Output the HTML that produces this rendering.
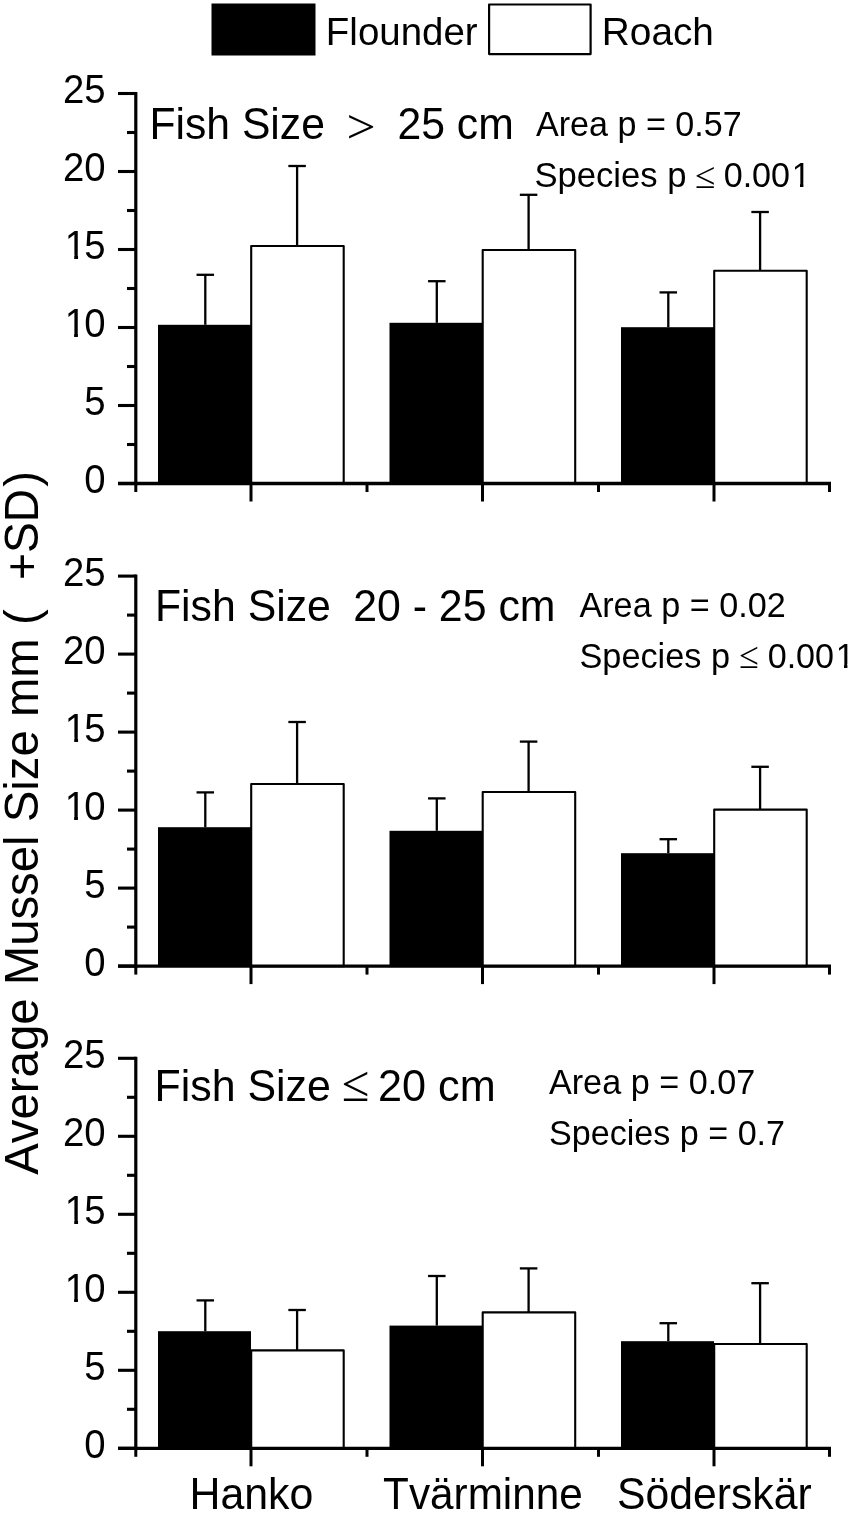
<!DOCTYPE html>
<html lang="en"><head><meta charset="utf-8"><title>Average Mussel Size</title>
<style>
html,body{margin:0;padding:0;background:#fff;}
body{width:850px;height:1513px;overflow:hidden;}
svg{display:block;}
text{fill:#000;font-kerning:none;font-variant-ligatures:none;white-space:pre;}
</style></head><body>
<svg width="850" height="1513" viewBox="0 0 850 1513">
<rect width="850" height="1513" fill="#fff"/>
<defs><clipPath id="c383" clipPathUnits="userSpaceOnUse"><path d="M-5 -38.30H38.30V-4.21H13.21V1.15H9.38V-4.21H-5Z"/></clipPath><clipPath id="c341" clipPathUnits="userSpaceOnUse"><path d="M-5 -34.10H34.10V-3.75H11.76V1.02H8.35V-3.75H-5Z"/></clipPath></defs>
<rect x="211.50" y="3.50" width="104.00" height="52.00" fill="#000"/>
<rect x="489.10" y="4.50" width="101.50" height="49.60" fill="#fff" stroke="#000" stroke-width="2.20" stroke-linejoin="round"/>
<text transform="translate(325.85 44.70) scale(0.9990 1.0200)" font-size="38.50" style="font-family:'Liberation Sans', Arial, Helvetica, sans-serif">Flounder</text>
<text transform="translate(601.82 44.70) scale(1.0073 1.0200)" font-size="38.50" style="font-family:'Liberation Sans', Arial, Helvetica, sans-serif">Roach</text>
<line x1="205.30" y1="274.80" x2="205.30" y2="324.80" stroke="#000" stroke-width="2.30"/>
<line x1="196.55" y1="274.80" x2="214.05" y2="274.80" stroke="#000" stroke-width="2.30"/>
<line x1="297.10" y1="166.00" x2="297.10" y2="246.00" stroke="#000" stroke-width="2.30"/>
<line x1="288.35" y1="166.00" x2="305.85" y2="166.00" stroke="#000" stroke-width="2.30"/>
<rect x="158.00" y="324.80" width="93.00" height="158.70" fill="#000"/>
<rect x="251.20" y="246.00" width="92.50" height="237.50" fill="#fff" stroke="#000" stroke-width="2.10" stroke-linejoin="round"/>
<line x1="436.80" y1="281.20" x2="436.80" y2="322.80" stroke="#000" stroke-width="2.30"/>
<line x1="428.05" y1="281.20" x2="445.55" y2="281.20" stroke="#000" stroke-width="2.30"/>
<line x1="528.60" y1="194.80" x2="528.60" y2="250.00" stroke="#000" stroke-width="2.30"/>
<line x1="519.85" y1="194.80" x2="537.35" y2="194.80" stroke="#000" stroke-width="2.30"/>
<rect x="389.50" y="322.80" width="93.00" height="160.70" fill="#000"/>
<rect x="482.70" y="250.00" width="92.50" height="233.50" fill="#fff" stroke="#000" stroke-width="2.10" stroke-linejoin="round"/>
<line x1="668.30" y1="292.40" x2="668.30" y2="327.20" stroke="#000" stroke-width="2.30"/>
<line x1="659.55" y1="292.40" x2="677.05" y2="292.40" stroke="#000" stroke-width="2.30"/>
<line x1="760.10" y1="212.00" x2="760.10" y2="270.80" stroke="#000" stroke-width="2.30"/>
<line x1="751.35" y1="212.00" x2="768.85" y2="212.00" stroke="#000" stroke-width="2.30"/>
<rect x="621.00" y="327.20" width="93.00" height="156.30" fill="#000"/>
<rect x="714.20" y="270.80" width="92.50" height="212.70" fill="#fff" stroke="#000" stroke-width="2.10" stroke-linejoin="round"/>
<line x1="135.80" y1="91.90" x2="135.80" y2="485.10" stroke="#000" stroke-width="3.20"/>
<line x1="118.00" y1="483.50" x2="135.80" y2="483.50" stroke="#000" stroke-width="3.10"/>
<text transform="translate(84.20 493.20) scale(1.0000 1.0400)" font-size="38.30" style="font-family:'Liberation Sans', Arial, Helvetica, sans-serif">0</text>
<line x1="127.00" y1="444.50" x2="135.80" y2="444.50" stroke="#000" stroke-width="3.10"/>
<line x1="118.00" y1="405.50" x2="135.80" y2="405.50" stroke="#000" stroke-width="3.10"/>
<text transform="translate(84.31 415.20) scale(1.0000 1.0400)" font-size="38.30" style="font-family:'Liberation Sans', Arial, Helvetica, sans-serif">5</text>
<line x1="127.00" y1="366.50" x2="135.80" y2="366.50" stroke="#000" stroke-width="3.10"/>
<line x1="118.00" y1="327.50" x2="135.80" y2="327.50" stroke="#000" stroke-width="3.10"/>
<text transform="translate(64.73 337.20) scale(1.0000 1.0400)" font-size="38.30" clip-path="url(#c383)" style="font-family:'Liberation Sans', Arial, Helvetica, sans-serif">1</text>
<text transform="translate(84.20 337.20) scale(1.0000 1.0400)" font-size="38.30" style="font-family:'Liberation Sans', Arial, Helvetica, sans-serif">0</text>
<line x1="127.00" y1="288.50" x2="135.80" y2="288.50" stroke="#000" stroke-width="3.10"/>
<line x1="118.00" y1="249.50" x2="135.80" y2="249.50" stroke="#000" stroke-width="3.10"/>
<text transform="translate(64.85 259.20) scale(1.0000 1.0400)" font-size="38.30" clip-path="url(#c383)" style="font-family:'Liberation Sans', Arial, Helvetica, sans-serif">1</text>
<text transform="translate(84.31 259.20) scale(1.0000 1.0400)" font-size="38.30" style="font-family:'Liberation Sans', Arial, Helvetica, sans-serif">5</text>
<line x1="127.00" y1="210.50" x2="135.80" y2="210.50" stroke="#000" stroke-width="3.10"/>
<line x1="118.00" y1="171.50" x2="135.80" y2="171.50" stroke="#000" stroke-width="3.10"/>
<text transform="translate(62.89 181.20) scale(1.0000 1.0400)" font-size="38.30" style="font-family:'Liberation Sans', Arial, Helvetica, sans-serif">20</text>
<line x1="127.00" y1="132.50" x2="135.80" y2="132.50" stroke="#000" stroke-width="3.10"/>
<line x1="118.00" y1="93.50" x2="135.80" y2="93.50" stroke="#000" stroke-width="3.10"/>
<text transform="translate(63.01 103.20) scale(1.0000 1.0400)" font-size="38.30" style="font-family:'Liberation Sans', Arial, Helvetica, sans-serif">25</text>
<line x1="118.00" y1="483.50" x2="831.00" y2="483.50" stroke="#000" stroke-width="3.30"/>
<line x1="251.00" y1="483.50" x2="251.00" y2="501.50" stroke="#000" stroke-width="3.00"/>
<line x1="482.50" y1="483.50" x2="482.50" y2="501.50" stroke="#000" stroke-width="3.00"/>
<line x1="714.00" y1="483.50" x2="714.00" y2="501.50" stroke="#000" stroke-width="3.00"/>
<line x1="135.80" y1="483.50" x2="135.80" y2="492.00" stroke="#000" stroke-width="3.00"/>
<line x1="367.00" y1="483.50" x2="367.00" y2="492.00" stroke="#000" stroke-width="3.00"/>
<line x1="598.50" y1="483.50" x2="598.50" y2="492.00" stroke="#000" stroke-width="3.00"/>
<line x1="829.50" y1="483.50" x2="829.50" y2="492.00" stroke="#000" stroke-width="3.00"/>
<line x1="205.30" y1="792.40" x2="205.30" y2="827.20" stroke="#000" stroke-width="2.30"/>
<line x1="196.55" y1="792.40" x2="214.05" y2="792.40" stroke="#000" stroke-width="2.30"/>
<line x1="297.10" y1="722.00" x2="297.10" y2="784.00" stroke="#000" stroke-width="2.30"/>
<line x1="288.35" y1="722.00" x2="305.85" y2="722.00" stroke="#000" stroke-width="2.30"/>
<rect x="158.00" y="827.20" width="93.00" height="138.90" fill="#000"/>
<rect x="251.20" y="784.00" width="92.50" height="182.10" fill="#fff" stroke="#000" stroke-width="2.10" stroke-linejoin="round"/>
<line x1="436.80" y1="798.40" x2="436.80" y2="830.80" stroke="#000" stroke-width="2.30"/>
<line x1="428.05" y1="798.40" x2="445.55" y2="798.40" stroke="#000" stroke-width="2.30"/>
<line x1="528.60" y1="741.60" x2="528.60" y2="792.00" stroke="#000" stroke-width="2.30"/>
<line x1="519.85" y1="741.60" x2="537.35" y2="741.60" stroke="#000" stroke-width="2.30"/>
<rect x="389.50" y="830.80" width="93.00" height="135.30" fill="#000"/>
<rect x="482.70" y="792.00" width="92.50" height="174.10" fill="#fff" stroke="#000" stroke-width="2.10" stroke-linejoin="round"/>
<line x1="668.30" y1="839.20" x2="668.30" y2="853.20" stroke="#000" stroke-width="2.30"/>
<line x1="659.55" y1="839.20" x2="677.05" y2="839.20" stroke="#000" stroke-width="2.30"/>
<line x1="760.10" y1="766.80" x2="760.10" y2="809.60" stroke="#000" stroke-width="2.30"/>
<line x1="751.35" y1="766.80" x2="768.85" y2="766.80" stroke="#000" stroke-width="2.30"/>
<rect x="621.00" y="853.20" width="93.00" height="112.90" fill="#000"/>
<rect x="714.20" y="809.60" width="92.50" height="156.50" fill="#fff" stroke="#000" stroke-width="2.10" stroke-linejoin="round"/>
<line x1="135.80" y1="574.50" x2="135.80" y2="967.70" stroke="#000" stroke-width="3.20"/>
<line x1="118.00" y1="966.10" x2="135.80" y2="966.10" stroke="#000" stroke-width="3.10"/>
<text transform="translate(84.20 975.80) scale(1.0000 1.0400)" font-size="38.30" style="font-family:'Liberation Sans', Arial, Helvetica, sans-serif">0</text>
<line x1="127.00" y1="927.10" x2="135.80" y2="927.10" stroke="#000" stroke-width="3.10"/>
<line x1="118.00" y1="888.10" x2="135.80" y2="888.10" stroke="#000" stroke-width="3.10"/>
<text transform="translate(84.31 897.80) scale(1.0000 1.0400)" font-size="38.30" style="font-family:'Liberation Sans', Arial, Helvetica, sans-serif">5</text>
<line x1="127.00" y1="849.10" x2="135.80" y2="849.10" stroke="#000" stroke-width="3.10"/>
<line x1="118.00" y1="810.10" x2="135.80" y2="810.10" stroke="#000" stroke-width="3.10"/>
<text transform="translate(64.73 819.80) scale(1.0000 1.0400)" font-size="38.30" clip-path="url(#c383)" style="font-family:'Liberation Sans', Arial, Helvetica, sans-serif">1</text>
<text transform="translate(84.20 819.80) scale(1.0000 1.0400)" font-size="38.30" style="font-family:'Liberation Sans', Arial, Helvetica, sans-serif">0</text>
<line x1="127.00" y1="771.10" x2="135.80" y2="771.10" stroke="#000" stroke-width="3.10"/>
<line x1="118.00" y1="732.10" x2="135.80" y2="732.10" stroke="#000" stroke-width="3.10"/>
<text transform="translate(64.85 741.80) scale(1.0000 1.0400)" font-size="38.30" clip-path="url(#c383)" style="font-family:'Liberation Sans', Arial, Helvetica, sans-serif">1</text>
<text transform="translate(84.31 741.80) scale(1.0000 1.0400)" font-size="38.30" style="font-family:'Liberation Sans', Arial, Helvetica, sans-serif">5</text>
<line x1="127.00" y1="693.10" x2="135.80" y2="693.10" stroke="#000" stroke-width="3.10"/>
<line x1="118.00" y1="654.10" x2="135.80" y2="654.10" stroke="#000" stroke-width="3.10"/>
<text transform="translate(62.89 663.80) scale(1.0000 1.0400)" font-size="38.30" style="font-family:'Liberation Sans', Arial, Helvetica, sans-serif">20</text>
<line x1="127.00" y1="615.10" x2="135.80" y2="615.10" stroke="#000" stroke-width="3.10"/>
<line x1="118.00" y1="576.10" x2="135.80" y2="576.10" stroke="#000" stroke-width="3.10"/>
<text transform="translate(63.01 585.80) scale(1.0000 1.0400)" font-size="38.30" style="font-family:'Liberation Sans', Arial, Helvetica, sans-serif">25</text>
<line x1="118.00" y1="966.10" x2="831.00" y2="966.10" stroke="#000" stroke-width="3.30"/>
<line x1="251.00" y1="966.10" x2="251.00" y2="984.10" stroke="#000" stroke-width="3.00"/>
<line x1="482.50" y1="966.10" x2="482.50" y2="984.10" stroke="#000" stroke-width="3.00"/>
<line x1="714.00" y1="966.10" x2="714.00" y2="984.10" stroke="#000" stroke-width="3.00"/>
<line x1="135.80" y1="966.10" x2="135.80" y2="974.60" stroke="#000" stroke-width="3.00"/>
<line x1="367.00" y1="966.10" x2="367.00" y2="974.60" stroke="#000" stroke-width="3.00"/>
<line x1="598.50" y1="966.10" x2="598.50" y2="974.60" stroke="#000" stroke-width="3.00"/>
<line x1="829.50" y1="966.10" x2="829.50" y2="974.60" stroke="#000" stroke-width="3.00"/>
<line x1="205.30" y1="1300.40" x2="205.30" y2="1331.20" stroke="#000" stroke-width="2.30"/>
<line x1="196.55" y1="1300.40" x2="214.05" y2="1300.40" stroke="#000" stroke-width="2.30"/>
<line x1="297.10" y1="1310.00" x2="297.10" y2="1350.40" stroke="#000" stroke-width="2.30"/>
<line x1="288.35" y1="1310.00" x2="305.85" y2="1310.00" stroke="#000" stroke-width="2.30"/>
<rect x="158.00" y="1331.20" width="93.00" height="117.10" fill="#000"/>
<rect x="251.20" y="1350.40" width="92.50" height="97.90" fill="#fff" stroke="#000" stroke-width="2.10" stroke-linejoin="round"/>
<line x1="436.80" y1="1276.00" x2="436.80" y2="1325.60" stroke="#000" stroke-width="2.30"/>
<line x1="428.05" y1="1276.00" x2="445.55" y2="1276.00" stroke="#000" stroke-width="2.30"/>
<line x1="528.60" y1="1268.40" x2="528.60" y2="1312.40" stroke="#000" stroke-width="2.30"/>
<line x1="519.85" y1="1268.40" x2="537.35" y2="1268.40" stroke="#000" stroke-width="2.30"/>
<rect x="389.50" y="1325.60" width="93.00" height="122.70" fill="#000"/>
<rect x="482.70" y="1312.40" width="92.50" height="135.90" fill="#fff" stroke="#000" stroke-width="2.10" stroke-linejoin="round"/>
<line x1="668.30" y1="1323.20" x2="668.30" y2="1341.20" stroke="#000" stroke-width="2.30"/>
<line x1="659.55" y1="1323.20" x2="677.05" y2="1323.20" stroke="#000" stroke-width="2.30"/>
<line x1="760.10" y1="1283.20" x2="760.10" y2="1344.00" stroke="#000" stroke-width="2.30"/>
<line x1="751.35" y1="1283.20" x2="768.85" y2="1283.20" stroke="#000" stroke-width="2.30"/>
<rect x="621.00" y="1341.20" width="93.00" height="107.10" fill="#000"/>
<rect x="714.20" y="1344.00" width="92.50" height="104.30" fill="#fff" stroke="#000" stroke-width="2.10" stroke-linejoin="round"/>
<line x1="135.80" y1="1056.70" x2="135.80" y2="1449.90" stroke="#000" stroke-width="3.20"/>
<line x1="118.00" y1="1448.30" x2="135.80" y2="1448.30" stroke="#000" stroke-width="3.10"/>
<text transform="translate(84.20 1458.00) scale(1.0000 1.0400)" font-size="38.30" style="font-family:'Liberation Sans', Arial, Helvetica, sans-serif">0</text>
<line x1="127.00" y1="1409.30" x2="135.80" y2="1409.30" stroke="#000" stroke-width="3.10"/>
<line x1="118.00" y1="1370.30" x2="135.80" y2="1370.30" stroke="#000" stroke-width="3.10"/>
<text transform="translate(84.31 1380.00) scale(1.0000 1.0400)" font-size="38.30" style="font-family:'Liberation Sans', Arial, Helvetica, sans-serif">5</text>
<line x1="127.00" y1="1331.30" x2="135.80" y2="1331.30" stroke="#000" stroke-width="3.10"/>
<line x1="118.00" y1="1292.30" x2="135.80" y2="1292.30" stroke="#000" stroke-width="3.10"/>
<text transform="translate(64.73 1302.00) scale(1.0000 1.0400)" font-size="38.30" clip-path="url(#c383)" style="font-family:'Liberation Sans', Arial, Helvetica, sans-serif">1</text>
<text transform="translate(84.20 1302.00) scale(1.0000 1.0400)" font-size="38.30" style="font-family:'Liberation Sans', Arial, Helvetica, sans-serif">0</text>
<line x1="127.00" y1="1253.30" x2="135.80" y2="1253.30" stroke="#000" stroke-width="3.10"/>
<line x1="118.00" y1="1214.30" x2="135.80" y2="1214.30" stroke="#000" stroke-width="3.10"/>
<text transform="translate(64.85 1224.00) scale(1.0000 1.0400)" font-size="38.30" clip-path="url(#c383)" style="font-family:'Liberation Sans', Arial, Helvetica, sans-serif">1</text>
<text transform="translate(84.31 1224.00) scale(1.0000 1.0400)" font-size="38.30" style="font-family:'Liberation Sans', Arial, Helvetica, sans-serif">5</text>
<line x1="127.00" y1="1175.30" x2="135.80" y2="1175.30" stroke="#000" stroke-width="3.10"/>
<line x1="118.00" y1="1136.30" x2="135.80" y2="1136.30" stroke="#000" stroke-width="3.10"/>
<text transform="translate(62.89 1146.00) scale(1.0000 1.0400)" font-size="38.30" style="font-family:'Liberation Sans', Arial, Helvetica, sans-serif">20</text>
<line x1="127.00" y1="1097.30" x2="135.80" y2="1097.30" stroke="#000" stroke-width="3.10"/>
<line x1="118.00" y1="1058.30" x2="135.80" y2="1058.30" stroke="#000" stroke-width="3.10"/>
<text transform="translate(63.01 1068.00) scale(1.0000 1.0400)" font-size="38.30" style="font-family:'Liberation Sans', Arial, Helvetica, sans-serif">25</text>
<line x1="118.00" y1="1448.30" x2="831.00" y2="1448.30" stroke="#000" stroke-width="3.30"/>
<line x1="251.00" y1="1448.30" x2="251.00" y2="1466.30" stroke="#000" stroke-width="3.00"/>
<line x1="482.50" y1="1448.30" x2="482.50" y2="1466.30" stroke="#000" stroke-width="3.00"/>
<line x1="714.00" y1="1448.30" x2="714.00" y2="1466.30" stroke="#000" stroke-width="3.00"/>
<line x1="135.80" y1="1448.30" x2="135.80" y2="1456.80" stroke="#000" stroke-width="3.00"/>
<line x1="367.00" y1="1448.30" x2="367.00" y2="1456.80" stroke="#000" stroke-width="3.00"/>
<line x1="598.50" y1="1448.30" x2="598.50" y2="1456.80" stroke="#000" stroke-width="3.00"/>
<line x1="829.50" y1="1448.30" x2="829.50" y2="1456.80" stroke="#000" stroke-width="3.00"/>
<text transform="translate(149.50 138.80) scale(0.9989 1.0200)" font-size="42.70" style="font-family:'Liberation Sans', Arial, Helvetica, sans-serif">Fish Size</text>
<text transform="translate(346.38 142.96) scale(1 0.9525)" font-size="51.58" style="font-family:'Liberation Serif', 'Times New Roman', serif">&gt;</text>
<text transform="translate(397.45 138.80) scale(1.0008 1.0200)" font-size="42.70" style="font-family:'Liberation Sans', Arial, Helvetica, sans-serif">25 cm</text>
<text transform="translate(154.99 621.40) scale(1.0018 1.0200)" font-size="42.70" style="font-family:'Liberation Sans', Arial, Helvetica, sans-serif">Fish Size</text>
<text transform="translate(353.15 621.40) scale(1.0033 1.0200)" font-size="42.70" style="font-family:'Liberation Sans', Arial, Helvetica, sans-serif">20 - 25 cm</text>
<text transform="translate(154.48 1100.70) scale(1.0047 1.0200)" font-size="42.70" style="font-family:'Liberation Sans', Arial, Helvetica, sans-serif">Fish Size</text>
<text transform="translate(341.71 1100.80) scale(1 1.0164)" font-size="50.29" style="font-family:'Liberation Serif', 'Times New Roman', serif">≤</text>
<text transform="translate(378.03 1100.70) scale(1.0115 1.0200)" font-size="42.70" style="font-family:'Liberation Sans', Arial, Helvetica, sans-serif">20 cm</text>
<text transform="translate(535.93 136.20) scale(1.0004 1.0200)" font-size="34.10" style="font-family:'Liberation Sans', Arial, Helvetica, sans-serif">Area p = 0.57</text>
<text transform="translate(534.43 187.40) scale(1.0152 1.0200)" font-size="34.10" style="font-family:'Liberation Sans', Arial, Helvetica, sans-serif">Species p</text>
<text transform="translate(694.66 187.50) scale(1 0.9854)" font-size="37.18" style="font-family:'Liberation Serif', 'Times New Roman', serif">≤</text>
<text transform="translate(723.67 187.40) scale(1.0000 1.0200)" font-size="34.10" style="font-family:'Liberation Sans', Arial, Helvetica, sans-serif">0.00</text>
<text transform="translate(791.67 187.40) scale(1.0000 1.0200)" font-size="34.10" clip-path="url(#c341)" style="font-family:'Liberation Sans', Arial, Helvetica, sans-serif">1</text>
<text transform="translate(579.43 617.10) scale(1.0029 1.0200)" font-size="34.10" style="font-family:'Liberation Sans', Arial, Helvetica, sans-serif">Area p = 0.02</text>
<text transform="translate(579.44 667.80) scale(1.0063 1.0200)" font-size="34.10" style="font-family:'Liberation Sans', Arial, Helvetica, sans-serif">Species p</text>
<text transform="translate(739.01 667.80) scale(1 1.0354)" font-size="35.89" style="font-family:'Liberation Serif', 'Times New Roman', serif">≤</text>
<text transform="translate(767.67 667.80) scale(1.0000 1.0200)" font-size="34.10" style="font-family:'Liberation Sans', Arial, Helvetica, sans-serif">0.00</text>
<text transform="translate(835.67 667.80) scale(1.0000 1.0200)" font-size="34.10" clip-path="url(#c341)" style="font-family:'Liberation Sans', Arial, Helvetica, sans-serif">1</text>
<text transform="translate(548.93 1093.70) scale(1.0029 1.0200)" font-size="34.10" style="font-family:'Liberation Sans', Arial, Helvetica, sans-serif">Area p = 0.07</text>
<text transform="translate(548.95 1144.70) scale(1.0010 1.0200)" font-size="34.10" style="font-family:'Liberation Sans', Arial, Helvetica, sans-serif">Species p = 0.7</text>
<text transform="translate(189.48 1509.40) scale(1.0039 1.0200)" font-size="42.70" style="font-family:'Liberation Sans', Arial, Helvetica, sans-serif">Hanko</text>
<text transform="translate(383.05 1509.40) scale(0.9907 1.0200)" font-size="42.70" style="font-family:'Liberation Sans', Arial, Helvetica, sans-serif">Tvärminne</text>
<text transform="translate(617.06 1509.40) scale(1.0002 1.0200)" font-size="42.70" style="font-family:'Liberation Sans', Arial, Helvetica, sans-serif">Söderskär</text>
<text transform="translate(38.40 1174.69) rotate(-90) scale(0.9964 1.030)" font-size="47.50" style="font-family:'Liberation Sans', Arial, Helvetica, sans-serif">Average Mussel Size mm (</text>
<text transform="translate(38.40 579.95) rotate(-90) scale(0.9716 1.030)" font-size="47.50" style="font-family:'Liberation Sans', Arial, Helvetica, sans-serif">+SD</text>
<text transform="translate(38.40 486.77) rotate(-90) scale(1.0000 1.030)" font-size="47.50" style="font-family:'Liberation Sans', Arial, Helvetica, sans-serif">)</text>
</svg>
</body></html>
